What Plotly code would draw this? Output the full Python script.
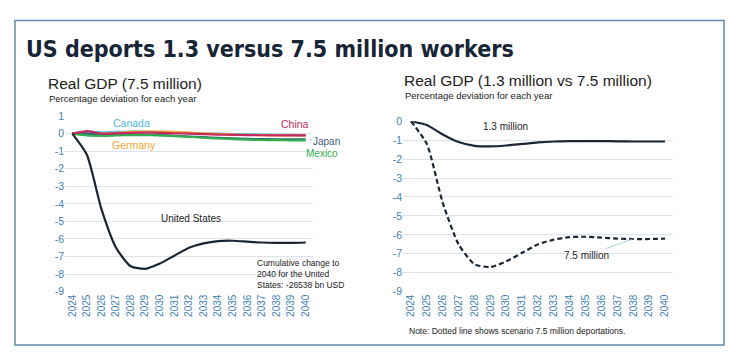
import plotly.graph_objects as go

years = [str(y) for y in range(2024, 2041)]

# Left chart: 7.5 million deportations, deviation of real GDP (%)
us_75 = [0, -1.2, -4.3, -6.5, -7.55, -7.7, -7.4, -6.95, -6.5, -6.25, -6.12, -6.1, -6.15, -6.2, -6.22, -6.22, -6.2]
canada = [0, 0.1, 0.08, 0.1, 0.12, 0.12, 0.1, 0.08, 0.05, 0.02, 0.0, -0.02, -0.04, -0.05, -0.06, -0.07, -0.08]
china = [0, 0.15, 0.0, 0.02, 0.05, 0.06, 0.05, 0.02, 0.0, -0.03, -0.05, -0.07, -0.08, -0.09, -0.1, -0.1, -0.1]
germany = [0, -0.05, 0.0, 0.05, 0.1, 0.12, 0.12, 0.1, 0.06, 0.02, -0.02, -0.05, -0.07, -0.08, -0.09, -0.1, -0.1]
japan = [0, 0.0, -0.05, -0.05, -0.05, -0.06, -0.08, -0.12, -0.16, -0.2, -0.24, -0.27, -0.3, -0.31, -0.32, -0.33, -0.33]
mexico = [0, -0.1, -0.12, -0.1, -0.08, -0.08, -0.1, -0.14, -0.18, -0.23, -0.27, -0.31, -0.34, -0.36, -0.37, -0.38, -0.38]

# Right chart: US under 1.3 vs 7.5 million deportations
us_13 = [0, -0.2, -0.7, -1.1, -1.3, -1.33, -1.28, -1.2, -1.12, -1.07, -1.05, -1.05, -1.05, -1.06, -1.07, -1.07, -1.07]

left_ticks = [1, 0, -1, -2, -3, -4, -5, -6, -7, -8, -9]
right_ticks = [0, -1, -2, -3, -4, -5, -6, -7, -8, -9]

W, H = 736, 353
def px(v): return v / W
def py(v): return 1 - v / H

FONT = "Liberation Sans, Arial, sans-serif"
TICKBLUE = "#3f7fb5"
GRID = "#dbe4ec"
DARK = "#1b2634"

fig = go.Figure()

others = [
    ("Canada", canada, "#55b6e3"),
    ("Germany", germany, "#f2a531"),
    ("Japan", japan, "#3e5d78"),
    ("Mexico", mexico, "#2fae4e"),
    ("China", china, "#c42a5e"),
]
for name, vals, col in others:
    fig.add_trace(go.Scatter(x=years, y=vals, mode="lines", name=name,
                             line=dict(color=col, width=2.2, shape="spline", smoothing=0.6),
                             xaxis="x", yaxis="y", showlegend=False))
fig.add_trace(go.Scatter(x=years, y=us_75, mode="lines", name="United States",
                         line=dict(color=DARK, width=2.2, shape="spline", smoothing=0.6),
                         xaxis="x", yaxis="y", showlegend=False))

fig.add_trace(go.Scatter(x=years, y=us_13, mode="lines", name="1.3 million",
                         line=dict(color=DARK, width=2.2, shape="spline", smoothing=0.6),
                         xaxis="x2", yaxis="y2", showlegend=False))
fig.add_trace(go.Scatter(x=years, y=us_75, mode="lines", name="7.5 million",
                         line=dict(color=DARK, width=2.2, dash="5px,3px", shape="spline", smoothing=0.6),
                         xaxis="x2", yaxis="y2", showlegend=False))

xcommon = dict(type="category", range=[-0.5, 16.5], tickangle=-90, showgrid=False,
               tickfont=dict(family=FONT, size=10, color=TICKBLUE), ticks="",
               showline=False, zeroline=False, fixedrange=True)
ycommon = dict(showgrid=True, gridcolor=GRID, gridwidth=1, zeroline=False, ticks="",
               tickfont=dict(family=FONT, size=10.5, color=TICKBLUE), showline=False,
               fixedrange=True)

fig.update_layout(
    width=W, height=H,
    margin=dict(l=0, r=0, t=0, b=0),
    paper_bgcolor="white", plot_bgcolor="white",
    font=dict(family=FONT),
    xaxis=dict(domain=[px(65), px(313)], anchor="y", **xcommon),
    yaxis=dict(domain=[py(295.7), py(114)], range=[-9, 1], tickvals=left_ticks,
               ticktext=[str(t) for t in left_ticks], anchor="x", **ycommon),
    xaxis2=dict(domain=[px(403), px(673)], anchor="y2", **xcommon),
    yaxis2=dict(domain=[py(295.7), py(119.3)], range=[-9, 0], tickvals=right_ticks,
                ticktext=[str(t) for t in right_ticks], anchor="x2", **ycommon),
)

# Outer border
fig.add_shape(type="rect", xref="paper", yref="paper", x0=px(15), x1=px(724), y0=py(351), y1=py(15),
              line=dict(color="#5f88aa", width=1.5), fillcolor="rgba(0,0,0,0)", layer="below")

ann = []
# Titles
ann.append(dict(text="<b>US deports 1.3 versus 7.5 million workers</b>", xref="paper", yref="paper",
                x=px(24), y=py(44), xanchor="left", yanchor="middle", showarrow=False,
                font=dict(family="Liberation Sans Narrow, Arial Narrow, DejaVu Sans Condensed, sans-serif", size=23, color="#172536")))
ann.append(dict(text="Real GDP (7.5 million)", xref="paper", yref="paper", x=px(46), y=py(80),
                xanchor="left", yanchor="middle", showarrow=False, font=dict(family=FONT, size=15.5, color="#222222")))
ann.append(dict(text="Percentage deviation for each year", xref="paper", yref="paper", x=px(47), y=py(96),
                xanchor="left", yanchor="middle", showarrow=False, font=dict(family=FONT, size=9.5, color="#222222")))
ann.append(dict(text="Real GDP (1.3 million vs 7.5 million)", xref="paper", yref="paper", x=px(402), y=py(77),
                xanchor="left", yanchor="middle", showarrow=False, font=dict(family=FONT, size=15.5, color="#222222")))
ann.append(dict(text="Percentage deviation for each year", xref="paper", yref="paper", x=px(403), y=py(93),
                xanchor="left", yanchor="middle", showarrow=False, font=dict(family=FONT, size=9.5, color="#222222")))

# Left chart series labels
ann.append(dict(text="Canada", xref="x", yref="y", x=3.1, y=0.17, ax=14, ay=-8, showarrow=True,
                arrowhead=0, arrowwidth=0.8, arrowcolor="#9fbfd6", font=dict(family=FONT, size=10.5, color="#55b6e3")))
ann.append(dict(text="Germany", xref="x", yref="y", x=4.2, y=-0.65, showarrow=False,
                font=dict(family=FONT, size=10.5, color="#f2a531")))
ann.append(dict(text="China", xref="x", yref="y", x=15.25, y=0.55, showarrow=False,
                font=dict(family=FONT, size=10.5, color="#c42a5e")))
ann.append(dict(text="Japan", xref="x", yref="y", x=16.2, y=-0.33, ax=18, ay=2, showarrow=True,
                arrowhead=0, arrowwidth=0.8, arrowcolor="#9fbfd6", font=dict(family=FONT, size=10, color="#3e5d78")))
ann.append(dict(text="Mexico", xref="x", yref="y", x=16, y=-1.12, xshift=16, showarrow=False,
                font=dict(family=FONT, size=10, color="#2fae4e")))
ann.append(dict(text="United States", xref="x", yref="y", x=8.13, y=-4.83, showarrow=False,
                font=dict(family=FONT, size=10, color="#222222")))
ann.append(dict(text="Cumulative change to<br>2040 for the United<br>States: -26538 bn USD", xref="x", yref="y",
                x=12.55, y=-7.97, xanchor="left", yanchor="middle", align="left", showarrow=False,
                font=dict(family=FONT, size=8.5, color="#222222")))

# Right chart labels
ann.append(dict(text="1.3 million", xref="x2", yref="y2", x=5.98, y=-0.29, showarrow=False,
                font=dict(family=FONT, size=10, color="#222222")))
ann.append(dict(text="7.5 million", xref="x2", yref="y2", x=14.0, y=-6.2, ax=-47, ay=17, showarrow=True,
                arrowhead=0, arrowwidth=0.8, arrowcolor="#9fbfd6", font=dict(family=FONT, size=10, color="#222222")))
ann.append(dict(text="Note: Dotted line shows scenario 7.5 million deportations.", xref="paper", yref="paper",
                x=px(407), y=py(336), xanchor="left", yanchor="middle", showarrow=False,
                font=dict(family=FONT, size=8.5, color="#222222")))

fig.update_layout(annotations=ann)
fig.write_html("out.html")
